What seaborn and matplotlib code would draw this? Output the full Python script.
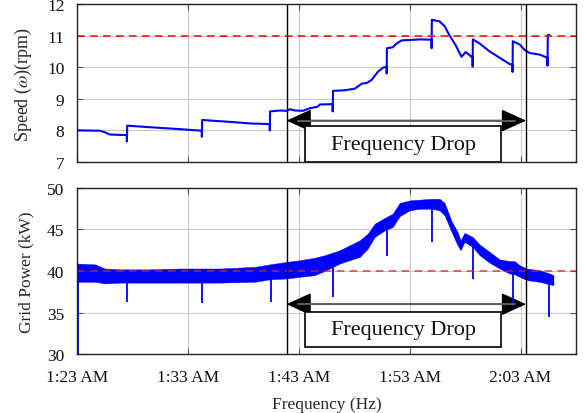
import matplotlib
matplotlib.use("Agg")
import matplotlib.pyplot as plt
from matplotlib.patches import Rectangle, FancyArrowPatch
import seaborn as sns
import pandas as pd

# ---- data (time in minutes after 1:23 AM) ----
speed_t = [0.0, 0.0, 2.07, 2.43, 2.97, 4.50, 4.50, 4.53, 6.58, 8.83, 11.26, 11.26, 11.29,
           13.78, 15.59, 17.39, 17.39, 17.41, 18.29, 18.92, 19.19, 19.64, 20.36, 20.99,
           21.71, 21.89, 23.06, 23.06, 23.09, 24.14, 25.05, 25.68, 26.13, 26.58, 27.12,
           27.57, 27.93, 27.93, 27.95, 28.47, 28.83, 29.28, 30.00, 30.90, 31.98, 31.98,
           32.00, 32.70, 33.15, 33.60, 34.14, 34.68, 35.05, 35.41, 35.68, 35.68, 35.70,
           36.31, 37.21, 38.11, 39.01, 39.28, 39.28, 39.30, 39.91, 40.36, 40.81, 41.71,
           42.43, 42.43, 42.46, 42.61]
speed_rpm = [7.0, 8.0, 7.99, 7.95, 7.87, 7.85, 7.65, 8.15, 8.10, 8.05, 7.99, 7.80, 8.33,
             8.27, 8.22, 8.20, 8.00, 8.60, 8.63, 8.62, 8.67, 8.63, 8.62, 8.70,
             8.75, 8.82, 8.83, 8.60, 9.25, 9.27, 9.32, 9.48, 9.50, 9.60, 9.85,
             9.98, 10.02, 9.80, 10.60, 10.63, 10.75, 10.85, 10.86, 10.88, 10.87, 10.60,
             11.50, 11.45, 11.30, 11.00, 10.70, 10.33, 10.48, 10.38, 10.30, 10.02, 10.88,
             10.75, 10.50, 10.30, 10.10, 10.07, 9.85, 10.82, 10.72, 10.55, 10.45, 10.40,
             10.30, 10.05, 11.02, 11.02]

power_t = [0.0, 1.62, 2.52, 3.87, 6.58, 9.28, 12.88, 16.04, 17.39, 18.92, 20.09, 21.44,
           22.34, 23.69, 24.59, 25.50, 26.22, 26.85, 27.75, 28.47, 29.10, 30.00, 30.90,
           31.98, 32.70, 33.15, 33.78, 34.32, 34.59, 34.95, 35.68, 36.31, 37.21, 38.11,
           39.01, 39.46, 39.91, 40.54, 41.71, 42.61, 42.97]
power_low = [38.7, 38.7, 38.5, 38.6, 38.6, 38.6, 38.6, 38.7, 39.0, 39.1, 39.3, 39.5,
             40.0, 40.9, 41.3, 41.7, 42.7, 44.1, 44.9, 45.3, 46.6, 47.3, 47.5,
             47.5, 47.3, 46.7, 44.7, 43.1, 42.5, 43.5, 42.9, 41.9, 41.0, 40.3,
             39.7, 39.6, 39.3, 38.9, 38.7, 38.4, 38.3]
power_high = [40.9, 40.8, 40.3, 40.2, 40.2, 40.3, 40.3, 40.5, 40.8, 41.1, 41.3, 41.6,
              41.9, 42.5, 43.1, 43.7, 44.5, 45.7, 46.4, 46.9, 48.2, 48.5, 48.6,
              48.7, 48.7, 48.2, 46.0, 44.7, 43.7, 44.6, 44.1, 43.2, 42.3, 41.4,
              41.2, 41.2, 40.7, 40.3, 40.1, 39.7, 39.5]

# momentary dips in grid power
dip_t = [0.05, 4.50, 11.26, 17.48, 23.06, 27.93, 31.98, 35.68, 39.28, 42.61]
dip_min = [30.0, 36.3, 36.2, 36.3, 36.9, 41.8, 43.5, 39.0, 35.8, 34.4]
dip_top = [39.5, 39.0, 39.0, 39.2, 41.0, 45.5, 47.8, 43.5, 40.0, 38.8]

speed_ref = 11.0
power_ref = 40.0
event_start, event_end = 18.9, 40.5
tick_pos = [0, 10, 20, 30, 40]
tick_labels = ["1:23 AM", "1:33 AM", "1:43 AM", "1:53 AM", "2:03 AM"]

sns.set_theme(style="whitegrid")
plt.rcParams["font.family"] = ["Liberation Serif", "DejaVu Serif"]
plt.rcParams["mathtext.fontset"] = "stix"

fig = plt.figure(figsize=(5.85, 4.14), dpi=100)
ax1 = fig.add_axes([0.1316, 0.6063, 0.853, 0.3816])
ax2 = fig.add_axes([0.1316, 0.1425, 0.853, 0.401])

blue = "#0000ff"
for ax in (ax1, ax2):
    ax.set_facecolor("white")
    ax.grid(True, color="#c8c8c8", linewidth=0.8)
    for s in ax.spines.values():
        s.set_color("#222222")
        s.set_linewidth(1.0)
    ax.tick_params(direction="in", length=4, width=0.8, color="#555555",
                   top=True, right=True, bottom=True, left=True,
                   labelsize=12.5, labelcolor="#111111")
    ax.tick_params(axis="y", pad=9)
    ax.tick_params(axis="x", pad=11)
    ax.set_xlim(0, 45)
    ax.set_xticks(tick_pos)

# speed
speed_df = pd.DataFrame({"t": speed_t, "speed": speed_rpm})
sns.lineplot(data=speed_df, x="t", y="speed", ax=ax1, sort=False, estimator=None,
             color=blue, linewidth=1.5)
ax1.axhline(speed_ref, color="#ff0000", linestyle=(0, (5, 3.5)), linewidth=1.1)
ax1.set_ylim(7, 12)
ax1.set_yticks([7, 8, 9, 10, 11, 12])
ax1.set_xticklabels([])
ax1.set_xlabel("")
ax1.set_ylabel(r"Speed ($\omega$)(rpm)", fontsize=13, labelpad=9)

# grid power
ax2.fill_between(power_t, power_low, power_high, color=blue, linewidth=0.3,
                 edgecolor=blue)
ax2.vlines(dip_t, dip_min, dip_top, color=blue, linewidth=1.3)
ax2.axhline(power_ref, color="#e8201e", linestyle=(0, (5, 3.5)), linewidth=1.1,
            alpha=0.85)
ax2.set_ylim(30, 50)
ax2.set_yticks([30, 35, 40, 45, 50])
ax2.set_xticklabels(tick_labels)
ax2.set_ylabel("Grid Power (kW)", fontsize=12.5, labelpad=9)
ax2.set_xlabel("Frequency (Hz)", fontsize=12.5, labelpad=8)

# event markers, arrows and labels
def mark_event(ax, y_arrow, box_y0, box_y1):
    ax.axvline(event_start, color="black", linewidth=1.0)
    ax.axvline(event_end, color="black", linewidth=1.0)
    arr = FancyArrowPatch((event_start, y_arrow), (event_end, y_arrow),
                          arrowstyle="<|-|>,head_length=1.1,head_width=0.5",
                          mutation_scale=14, color="#555555", linewidth=1.2,
                          shrinkA=0, shrinkB=0)
    arr.set_facecolor("black")
    arr.set_edgecolor("black")
    ax.add_patch(arr)
    ax.plot([event_start + 1.0, event_end - 1.0], [y_arrow, y_arrow],
            color="#666666", linewidth=1.3)
    ax.add_patch(Rectangle((20.6, box_y0), 17.6, box_y1 - box_y0,
                           facecolor="white", edgecolor="black", linewidth=1.2,
                           zorder=5))
    ax.text(29.4, (box_y0 + box_y1) / 2, "Frequency Drop", ha="center",
            va="center", fontsize=16, zorder=6, color="#111111")

mark_event(ax1, 8.31, 7.0, 8.13)
mark_event(ax2, 36.0, 30.84, 35.06)

fig.savefig("out.png", dpi=100)
